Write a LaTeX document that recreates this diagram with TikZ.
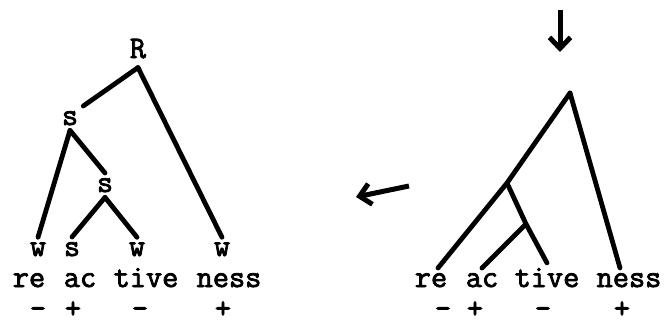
\documentclass[tikz,border=0pt]{standalone}
\usepackage{fontspec}
\newfontfamily\typewr{Latin Modern Mono}[FakeBold=2.5]
\usetikzlibrary{arrows.meta}
\begin{document}
\begin{tikzpicture}[x=1pt,y=-1pt,every node/.style={font=\typewr\fontsize{31.4}{34}\selectfont,anchor=base,inner sep=5pt},
  branch/.style={line width=4.8pt,line cap=round,line join=round},
  sign/.style={inner sep=1pt},
  arr/.style={line width=5pt,-{Straight Barb[length=11pt,width=21pt]}}]
\useasboundingbox (0,0) rectangle (667,324);
\node[inner sep=9pt] (R) at (138,58) {R};
\node (s1) at (70,125) {s};\node (s2) at (105,192) {s};
\node (w1) at (38,256) {w};\node (s3) at (72,256) {s};\node (w2) at (137,256) {w};\node (w3) at (222,256) {w};
\foreach \t/\x/\n in {re/29/re1,ac/80/ac1,tive/146/tive1,ness/229/ness1} \node (\n) at (\x,287) {\t};
\foreach \s/\x/\n in {-/38/m1,+/73/p1,-/140/m2,+/223/p2} \node[sign] (\n) at (\x,318) {\s};
\draw[branch] (R.south) -- (s1.north east);\draw[branch] (R.south) -- (w3.north);
\draw[branch] (s1.south) -- (w1.north);\draw[branch] (s1.south) -- (s2.north);
\draw[branch] (s2.south) -- (s3.north);\draw[branch] (s2.south) -- (w2.north);
\coordinate (ltA) at (409,186);\coordinate (ltB) at (356,197);\draw[arr] (ltA) -- (ltB);
\coordinate (dnA) at (560,10);\coordinate (dnB) at (560,52);\draw[arr] (dnA) -- (dnB);
\foreach \t/\x/\n in {re/431/re2,ac/482/ac2,tive/547/tive2,ness/629/ness2} \node (\n) at (\x,287) {\t};
\foreach \s/\x/\n in {-/443/m3,+/475/p3,-/543/m4,+/622/p4} \node[sign] (\n) at (\x,318) {\s};
\coordinate (top) at (570,93);\coordinate (j1) at (507,183);\coordinate (j2) at (526,224);
\draw[branch] (top) -- (j1) -- ([xshift=7pt]re2.north);
\draw[branch] (j1) -- (j2) -- (tive2.north);\draw[branch] (j2) -- (ac2.north);
\draw[branch] (top) -- ([xshift=-9pt]ness2.north);
\end{tikzpicture}
\end{document}
